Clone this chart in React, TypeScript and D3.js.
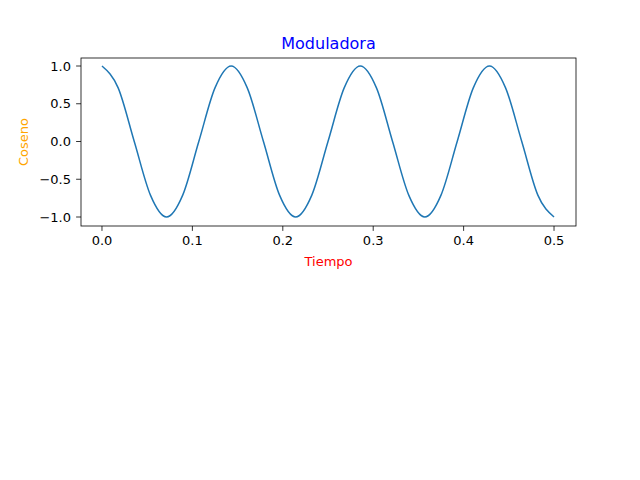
import * as d3 from "d3";
import React from "react";

// samples (every 1/56 s)
const times = [
  0, 0.0179, 0.0357, 0.0536, 0.0714, 0.0893, 0.1071, 0.125, 0.1429, 0.1607,
  0.1786, 0.1964, 0.2143, 0.2321, 0.25, 0.2679, 0.2857, 0.3036, 0.3214,
  0.3393, 0.3571, 0.375, 0.3929, 0.4107, 0.4286, 0.4464, 0.4643, 0.4821, 0.5,
];
const values = [
  1, 0.71, 0, -0.71, -1, -0.71, 0, 0.71, 1, 0.71, 0, -0.71, -1, -0.71, 0,
  0.71, 1, 0.71, 0, -0.71, -1, -0.71, 0, 0.71, 1, 0.71, 0, -0.71, -1,
];
const xTicks = [0, 0.1, 0.2, 0.3, 0.4, 0.5];
const yTicks = [1, 0.5, 0, -0.5, -1];

const W = 640;
const H = 480;
const left = 81;
const right = 576;
const top = 58;
const bottom = 226;

const App: React.FC = () => {
  const x = d3.scaleLinear().domain([-0.0232, 0.5243]).range([left, right]);
  const y = d3.scaleLinear().domain([-1.119, 1.106]).range([bottom, top]);
  const line = d3
    .line<number>()
    .x((_, i) => x(times[i]))
    .y((d) => y(d))
    .curve(d3.curveMonotoneX);

  const font = "DejaVu Sans, sans-serif";

  return (
    <svg
      width={W}
      height={H}
      style={{ position: "absolute", top: 0, left: 0, background: "#fff" }}
      fontFamily={font}
    >
      <rect x={0} y={0} width={W} height={H} fill="#fff" />
      <path d={line(values) || ""} fill="none" stroke="#1f77b4" strokeWidth={1.5} />
      <rect
        x={left}
        y={top}
        width={right - left}
        height={bottom - top}
        fill="none"
        stroke="#000"
        strokeWidth={0.8}
      />
      {xTicks.map((t) => (
        <g key={t} transform={`translate(${x(t)},${bottom})`}>
          <line y2={4.9} stroke="#000" strokeWidth={0.8} />
          <text y={19} textAnchor="middle" fontSize={13}>
            {t.toFixed(1)}
          </text>
        </g>
      ))}
      {yTicks.map((t) => (
        <g key={t} transform={`translate(${left},${y(t)})`}>
          <line x2={-4.9} stroke="#000" strokeWidth={0.8} />
          <text x={-10} dy="0.35em" textAnchor="end" fontSize={13}>
            {t < 0 ? "\u2212" + Math.abs(t).toFixed(1) : t.toFixed(1)}
          </text>
        </g>
      ))}
      <text x={(left + right) / 2} y={49} textAnchor="middle" fontSize={16} fill="blue">
        Moduladora
      </text>
      <text x={(left + right) / 2} y={266} textAnchor="middle" fontSize={13} fill="red">
        Tiempo
      </text>
      <text
        transform={`translate(28,${(top + bottom) / 2}) rotate(-90)`}
        textAnchor="middle"
        fontSize={13}
        fill="orange"
      >
        Coseno
      </text>
    </svg>
  );
};

export default App;
